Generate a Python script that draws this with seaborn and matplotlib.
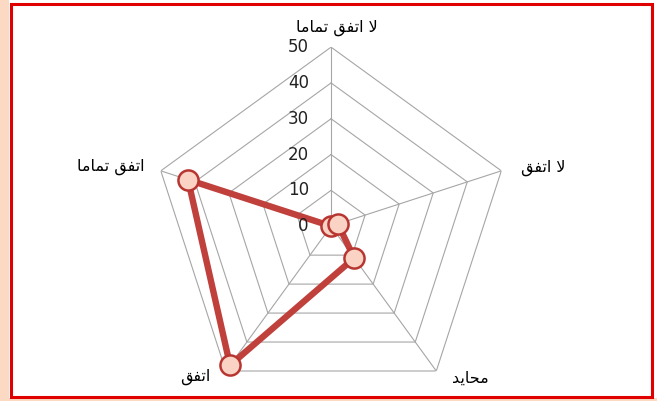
import numpy as np
import pandas as pd
import seaborn as sns
import matplotlib.pyplot as plt
from matplotlib.patches import Rectangle

# survey answers (clockwise from top) and number of responses
categories = ["لا اتفق تماما", "لا اتفق", "محايد", "اتفق", "اتفق تماما"]
counts = [0, 2, 11, 48, 42]
ring_levels = [0, 10, 20, 30, 40, 50]

# matplotlib has no arabic shaping, so pick the joined glyph forms by hand
# letter: (isolated, final, initial, medial); None = letter does not join to the next one
FORMS = {
    "ا": ("\ufe8d", "\ufe8e", None, None),
    "د": ("\ufea9", "\ufeaa", None, None),
    "\ufefb": ("\ufefb", "\ufefc", None, None),  # lam-alef
    "ت": ("\ufe95", "\ufe96", "\ufe97", "\ufe98"),
    "ف": ("\ufed1", "\ufed2", "\ufed3", "\ufed4"),
    "ق": ("\ufed5", "\ufed6", "\ufed7", "\ufed8"),
    "م": ("\ufee1", "\ufee2", "\ufee3", "\ufee4"),
    "ح": ("\ufea1", "\ufea2", "\ufea3", "\ufea4"),
    "ي": ("\ufef1", "\ufef2", "\ufef3", "\ufef4"),
    "ل": ("\ufedd", "\ufede", "\ufedf", "\ufee0"),
}


def shape(text):
    chars = list(text.replace("لا", "\ufefb"))
    out = []
    for i, ch in enumerate(chars):
        if ch not in FORMS:
            out.append(ch)
            continue
        prev = chars[i - 1] if i > 0 else " "
        nxt = chars[i + 1] if i + 1 < len(chars) else " "
        join_prev = prev in FORMS and FORMS[prev][2] is not None
        join_next = nxt in FORMS and FORMS[ch][2] is not None
        iso, fin, ini, med = FORMS[ch]
        if join_prev and join_next:
            out.append(med)
        elif join_prev:
            out.append(fin)
        elif join_next:
            out.append(ini)
        else:
            out.append(iso)
    return "".join(reversed(out))


sns.set_style("white")
plt.rcParams["font.family"] = ["DejaVu Sans"]

fig = plt.figure(figsize=(6.57, 4.01), dpi=100)
ax = fig.add_axes([0.2314, -0.0105, 0.545, 0.893], projection="polar")
ax.set_theta_offset(np.pi / 2)
ax.set_theta_direction(-1)

angles = np.linspace(0, 2 * np.pi, len(categories), endpoint=False)
closed_angles = np.append(angles, 2 * np.pi)

# pentagon grid
grid_col = "#a6a6a6"
for lv in ring_levels[1:]:
    ax.plot(closed_angles, [lv] * len(closed_angles), color=grid_col, lw=0.8, zorder=1)
for a in angles:
    ax.plot([a, a], [0, ring_levels[-1]], color=grid_col, lw=0.8, zorder=1)

df = pd.DataFrame({"theta": closed_angles, "count": counts + counts[:1]})
sns.lineplot(data=df, x="theta", y="count", sort=False, estimator=None, ax=ax,
             color="#c0403c", lw=4.6, solid_joinstyle="round", solid_capstyle="round", zorder=3)
sns.scatterplot(data=df.iloc[:-1], x="theta", y="count", ax=ax, s=210,
                color="#fad3c4", edgecolor="#b83632", linewidth=1.8, zorder=4, clip_on=False)

ax.set_ylim(0, ring_levels[-1])
ax.grid(False)
ax.spines["polar"].set_visible(False)
ax.set_xticks([])
ax.set_yticks([])
ax.set_xlabel("")
ax.set_ylabel("")
ax.patch.set_alpha(0)

for lv in ring_levels:
    ax.annotate(str(lv), xy=(0, lv), xytext=(-16, 0), textcoords="offset points",
                ha="right", va="center", fontsize=12, color="#222222")

label_spots = [((4, 14), "center", "center"),
               ((14, 2), "left", "center"),
               ((11, -5), "left", "center"),
               ((-11, -4), "right", "center"),
               ((-12, 3), "right", "center")]
for a, name, (off, ha, va) in zip(angles, categories, label_spots):
    ax.annotate(shape(name), xy=(a, ring_levels[-1]), xytext=off, textcoords="offset points",
                ha=ha, va=va, fontsize=11.5, color="black", annotation_clip=False)

# frame around the picture
fig.patches.append(Rectangle((0, 0), 9 / 657, 1, transform=fig.transFigure,
                             facecolor="#fbd9c2", edgecolor="none", zorder=0))
fig.patches.append(Rectangle((0, 0), 1, 3 / 401, transform=fig.transFigure,
                             facecolor="#fbd9c2", edgecolor="none", zorder=0))
fig.patches.append(Rectangle((11 / 657, 4 / 401), 641 / 657, 393 / 401, transform=fig.transFigure,
                             facecolor="none", edgecolor="#e00000", lw=2.2, zorder=5))

fig.savefig("out.png", dpi=100)
